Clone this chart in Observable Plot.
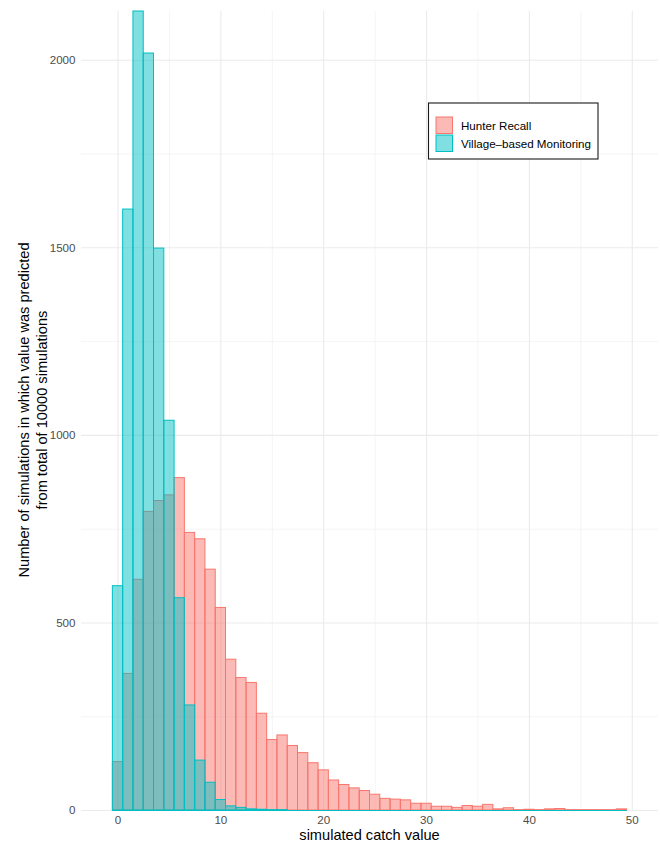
<!DOCTYPE html>
<html><head><meta charset="utf-8">
<script src="https://cdn.jsdelivr.net/npm/d3@7"></script>
<script src="https://cdn.jsdelivr.net/npm/@observablehq/plot@0.6"></script>
<style>
body{margin:0;background:#fff;}
#chart{position:relative;width:660px;height:845px;}
</style></head><body><div id="chart"></div>
<script>
const catchValues = [0,1,2,3,4,5,6,7,8,9,10,11,12,13,14,15,16,17,18,19,20,21,22,23,24,25,26,27,28,29,30,31,32,33,34,35,36,37,38,39,40,41,42,43,44,45,46,47,48,49];
const hunterRecall = [129,364,615,796,825,840,886,740,723,642,540,402,353,340,258,188,200,172,153,126,107,80,68,59,52,42,31,29,27,18,18,10,10,7,12,10,15,3,6,1,2,1,3,4,1,1,1,1,1,3];
const villageMonitoring = [598,1602,2130,2018,1498,1039,566,280,133,74,28,11,7,3,2,1,1,0,0,0,0,0,0,0,0,0,0,0,0,0,0,0,0,0,0,0,0,0,0,0,0,0,0,0,0,0,0,0,0,0];
const seriesNames = ["Hunter Recall", "Village–based Monitoring"];
const seriesColors = ["#F8766D", "#00BFC4"];
const xMajor = [0,10,20,30,40,50];
const xMinor = [5,15,25,35,45];
const yMajor = [0,500,1000,1500,2000];
const yMinor = [250,750,1250,1750];
const xTitle = "simulated catch value";
const yTitleLines = ["Number of simulations in which value was predicted", "from total of 10000 simulations"];

const binW = 1;
const hunterRows = catchValues.map((v,i)=>({x1:v-binW/2, x2:v+binW/2, count:hunterRecall[i]}));
const villageRows = catchValues.map((v,i)=>({x1:v-binW/2, x2:v+binW/2, count:villageMonitoring[i]}));
const baseRow = [{y:0, x1:catchValues[0]-binW/2, x2:catchValues[catchValues.length-1]+binW/2}];
const font = "'Liberation Sans', Arial, Helvetica, sans-serif";

const plot = Plot.plot({
  width:660, height:845,
  marginTop:11, marginBottom:35, marginLeft:81, marginRight:2,
  style:{fontFamily:font, background:"#fff", overflow:"visible"},
  x:{domain:[-3.55,52.55]},
  y:{domain:[0,2130]},
  marks:[
    Plot.ruleY(yMinor,{stroke:"#EBEBEB",strokeWidth:0.55}),
    Plot.ruleX(xMinor,{stroke:"#EBEBEB",strokeWidth:0.55}),
    Plot.ruleY(yMajor,{stroke:"#EBEBEB",strokeWidth:1.1}),
    Plot.ruleX(xMajor,{stroke:"#EBEBEB",strokeWidth:1.1}),
    Plot.rectY(hunterRows,{x1:"x1",x2:"x2",y:"count",fill:seriesColors[0],fillOpacity:0.5,stroke:seriesColors[0],strokeWidth:1,inset:0}),
    Plot.ruleY(baseRow,{y:"y",x1:"x1",x2:"x2",stroke:seriesColors[0],strokeWidth:1}),
    Plot.rectY(villageRows,{x1:"x1",x2:"x2",y:"count",fill:seriesColors[1],fillOpacity:0.5,stroke:seriesColors[1],strokeWidth:1,inset:0}),
    Plot.ruleY(baseRow,{y:"y",x1:"x1",x2:"x2",stroke:seriesColors[1],strokeWidth:1.2}),
    Plot.axisX({ticks:xMajor, tickSize:0, tickPadding:5, fontSize:11.6, color:"#4D4D4D", label:null, tickFormat:d=>String(d)}),
    Plot.axisY({ticks:yMajor, tickSize:0, tickPadding:6, fontSize:11.6, color:"#4D4D4D", label:null, tickFormat:d=>String(d)})
  ]
});
document.getElementById("chart").appendChild(plot);

const svg = d3.select(plot);
// x title
svg.append("text").attr("x",369.5).attr("y",840).attr("text-anchor","middle")
  .attr("font-family",font).attr("font-size",14.6).attr("fill","#000").text(xTitle);
// y title
const yt = svg.append("text").attr("transform","translate(0,410) rotate(-90)")
  .attr("text-anchor","middle").attr("font-family",font).attr("font-size",14.6).attr("fill","#000");
yt.append("tspan").attr("x",0).attr("y",29).text(yTitleLines[0]);
yt.append("tspan").attr("x",0).attr("y",46.5).text(yTitleLines[1]);
// legend
const lg = svg.append("g").attr("text-anchor","start");
lg.append("rect").attr("x",428.5).attr("y",103).attr("width",169.5).attr("height",56)
  .attr("fill","#fff").attr("stroke","#1a1a1a").attr("stroke-width",1.1);
seriesNames.forEach((name,i)=>{
  const top = 116.5 + i*18;
  lg.append("rect").attr("x",436).attr("y",top+0.5).attr("width",16.5).attr("height",16.5)
    .attr("fill",seriesColors[i]).attr("fill-opacity",0.5).attr("stroke",seriesColors[i]).attr("stroke-width",1);
  lg.append("text").attr("x",461).attr("y",top+9).attr("dy","0.35em").attr("text-anchor","start")
    .attr("font-family",font).attr("font-size",11.6).attr("fill","#000").text(name);
});
</script></body></html>
